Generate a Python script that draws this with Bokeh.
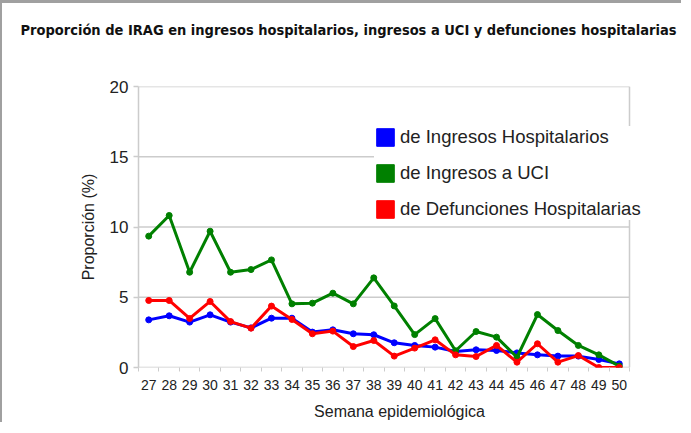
from bokeh.plotting import figure
from bokeh.models import Range1d, FixedTicker, Legend, LegendItem, ColumnDataSource, Title
from bokeh.embed import file_html
from bokeh.resources import INLINE

weeks = list(range(27, 51))
ingresos_hosp = [3.39, 3.68, 3.23, 3.75, 3.23, 2.82, 3.51, 3.51, 2.52, 2.68, 2.40, 2.33,
                 1.76, 1.57, 1.45, 1.14, 1.26, 1.21, 1.04, 0.90, 0.81, 0.81, 0.57, 0.26]
ingresos_uci = [9.35, 10.82, 6.78, 9.70, 6.78, 6.97, 7.66, 4.53, 4.58, 5.29, 4.53, 6.38,
                4.38, 2.34, 3.48, 1.19, 2.56, 2.16, 0.73, 3.77, 2.63, 1.57, 0.90, 0.10]
defunciones = [4.77, 4.77, 3.49, 4.70, 3.27, 2.80, 4.37, 3.42, 2.40, 2.59, 1.49, 1.92,
               0.81, 1.38, 1.97, 0.90, 0.78, 1.57, 0.38, 1.69, 0.38, 0.85, 0.0, 0.0]
series_names = ["de Ingresos Hospitalarios", "de Ingresos a UCI", "de Defunciones Hospitalarias"]
series_colors = ["#0000ff", "#008000", "#ff0000"]
y_ticks = [0, 5, 10, 15, 20]
title_text = "Proporción de IRAG en ingresos hospitalarios, ingresos a UCI y defunciones hospitalarias"

FONT = "Liberation Sans"
GRID = "#cccccc"

x_lo, x_hi = weeks[0] - 0.5, weeks[-1] + 0.5
cat_px = (629 - 138) / len(weeks)          # pixel width of one week
x_end = x_hi + (660 - 629) / cat_px         # frame extended to the right so the legend is not clipped

p = figure(width=681, height=422, output_backend="svg", toolbar_location=None, title=None,
           x_range=Range1d(x_lo, x_end), y_range=Range1d(0, 20),
           min_border_left=136, min_border_right=23, min_border_top=83, min_border_bottom=58)
p.styles = {"border-left": "2px solid #a0a0a0", "border-top": "3px solid #a0a0a0"}

# spacer between frame and title (closest to frame), then the title itself
p.add_layout(Title(text=" ", text_font_size="1px", standoff=46), "above")
p.add_layout(Title(text=title_text, text_font="DejaVu Sans Condensed", text_font_style="bold",
                   text_font_size="14.5px", align="left", offset=-118, vertical_align="bottom",
                   standoff=0, text_color="#111111"), "above")

p.background_fill_color = "white"
p.border_fill_color = "white"
p.outline_line_color = None
p.xgrid.grid_line_color = None
p.ygrid.grid_line_color = None

# horizontal grid lines, baseline and right border, limited to the weeks span
p.segment(x0=[x_lo] * len(y_ticks), x1=[x_hi] * len(y_ticks), y0=y_ticks, y1=y_ticks,
          line_color=GRID, line_width=1.5)
p.segment(x0=[x_hi], x1=[x_hi], y0=[y_ticks[0]], y1=[y_ticks[-1]], line_color=GRID, line_width=1.5)

p.xaxis.ticker = FixedTicker(ticks=weeks, minor_ticks=[w - 0.5 for w in weeks] + [x_hi])
p.xaxis.major_tick_line_color = None
p.xaxis.minor_tick_out = 4
p.xaxis.minor_tick_in = 0
p.xaxis.minor_tick_line_color = GRID
p.xaxis.axis_line_color = None
p.xaxis.major_label_text_font = FONT
p.xaxis.major_label_text_font_size = "14px"
p.xaxis.major_label_text_color = "#222222"
p.xaxis.major_label_standoff = 6
p.xaxis.axis_label = "Semana epidemiológica"
p.xaxis.axis_label_text_font = FONT
p.xaxis.axis_label_text_font_size = "16px"
p.xaxis.axis_label_text_font_style = "normal"
p.xaxis.axis_label_text_color = "#222222"
p.xaxis.axis_label_standoff = 10

p.yaxis.ticker = FixedTicker(ticks=y_ticks)
p.yaxis.minor_tick_line_color = None
p.yaxis.major_tick_out = 5
p.yaxis.major_tick_in = 0
p.yaxis.major_tick_line_color = GRID
p.yaxis.major_tick_line_width = 1.5
p.yaxis.axis_line_color = GRID
p.yaxis.axis_line_width = 1.5
p.yaxis.major_label_text_font = FONT
p.yaxis.major_label_text_font_size = "17px"
p.yaxis.major_label_text_color = "#222222"
p.yaxis.major_label_standoff = 5
p.yaxis.axis_label = "Proporción (%)"
p.yaxis.axis_label_text_font = FONT
p.yaxis.axis_label_text_font_size = "16px"
p.yaxis.axis_label_text_font_style = "normal"
p.yaxis.axis_label_text_color = "#222222"
p.yaxis.axis_label_standoff = 10

items = []
for name, vals, col in zip(series_names, [ingresos_hosp, ingresos_uci, defunciones], series_colors):
    src = ColumnDataSource(dict(x=weeks, y=vals))
    p.line("x", "y", source=src, line_color=col, line_width=3)
    p.scatter("x", "y", source=src, size=6, fill_color=col, line_color=col)
    sw = p.quad(left=[0], right=[0.001], top=[-1], bottom=[-1.001], fill_color=col, line_color=col)
    items.append(LegendItem(label=name, renderers=[sw]))

legend = Legend(items=items, location=(236, 147), orientation="vertical",
                glyph_width=22, glyph_height=22, label_height=22, spacing=14,
                padding=12, margin=0, label_standoff=4,
                label_text_font=FONT, label_text_font_size="18.5px", label_text_color="#222222",
                border_line_color=None, background_fill_color="white", background_fill_alpha=1.0)
p.add_layout(legend)

open("out.html", "w").write(file_html(p, INLINE))
